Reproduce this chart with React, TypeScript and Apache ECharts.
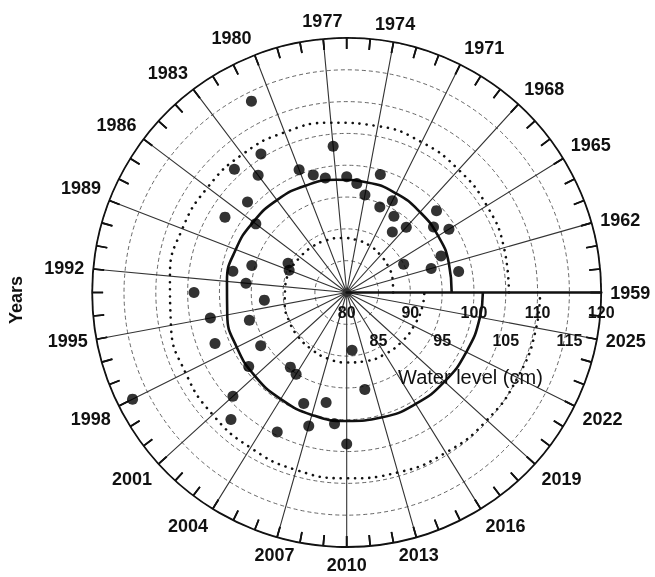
import React, { useEffect, useRef } from "react";
import * as echarts from "echarts";

const years = [
  1961, 1962, 1963, 1964, 1965, 1966, 1967, 1968, 1969, 1970,
  1971, 1972, 1973, 1974, 1975, 1976, 1977, 1978, 1979, 1980,
  1981, 1982, 1983, 1984, 1985, 1986, 1987, 1988, 1989, 1990,
  1991, 1992, 1993, 1994, 1995, 1996, 1997, 1998, 1999, 2000,
  2001, 2002, 2003, 2004, 2005, 2006, 2007, 2008, 2009, 2010,
  2011, 2012,
];
const waterLevels = [
  97.9, 93.8, 95.9, 90.0, 98.9, 97.1, 99.1, 93.9, 91.9, 94.1,
  96.1, 94.4, 99.3, 95.6, 97.2, 98.2, 103.1, 98.3, 99.2, 100.7,
  113.6, 105.6, 103.1, 106.2, 101.1, 97.9, 102.5, 90.3, 89.7, 95.5,
  98.2, 95.9, 104.0, 93.0, 101.8, 95.9, 102.2, 117.6, 95.9, 99.3,
  104.2, 107.0, 94.7, 95.1, 104.5, 98.7, 101.8, 97.6, 100.7, 103.8,
  89.1, 95.5,
];

// Trend spiral and its dotted bounds, read at the labelled years
const trendYears = [
  1959, 1962, 1965, 1968, 1971, 1974, 1977, 1980, 1983, 1986, 1989, 1992,
  1995, 1998, 2001, 2004, 2007, 2010, 2013, 2016, 2019, 2022, 2025, 2027,
];
const trendLevels = [
  96.5, 96.7, 96.9, 97.1, 97.4, 97.6, 97.8, 98.0, 98.2, 98.4, 98.7, 98.9,
  99.1, 99.3, 99.5, 99.7, 100.0, 100.2, 100.4, 100.6, 100.8, 101.0, 101.3, 101.4,
];
const upperLevels = [
  105.5, 105.7, 105.9, 106.1, 106.4, 106.6, 106.8, 107.0, 107.2, 107.4, 107.7, 107.9,
  108.1, 108.3, 108.5, 108.7, 109.0, 109.2, 109.4, 109.6, 109.8, 110.0, 110.3, 110.4,
];
const lowerLevels = [
  87.3, 87.5, 87.7, 87.9, 88.2, 88.4, 88.6, 88.8, 89.0, 89.2, 89.5, 89.7,
  89.9, 90.1, 90.3, 90.5, 90.8, 91.0, 91.2, 91.4, 91.6, 91.8, 92.1, 92.2,
];

// Yearly tick marks on the outer circle (axis decoration)
const tickYears: number[] = [];
for (let y = 1959; y < 2027; y++) tickYears.push(y);

const FONT = "Liberation Sans";
const CENTER = [346.7, 292.5];
const RADIUS = 254.5;

export default function App() {
  const ref = useRef<HTMLDivElement>(null);
  useEffect(() => {
    if (!ref.current) return;
    const chart = echarts.init(ref.current, undefined, { renderer: "svg" });
    const pair = (lv: number[], yr: number[]) => yr.map((y, i) => [lv[i], y]);
    chart.setOption({
      animation: false,
      textStyle: { fontFamily: FONT, color: "#111" },
      polar: { center: CENTER, radius: RADIUS },
      angleAxis: {
        type: "value",
        min: 1959,
        max: 2027,
        interval: 3,
        startAngle: 0,
        clockwise: false,
        axisLine: { show: true, lineStyle: { color: "#111", width: 1.8 } },
        axisTick: { show: true, inside: true, length: 11, lineStyle: { color: "#111", width: 1.7 } },
        minorTick: { show: true, splitNumber: 3, length: 11, lineStyle: { color: "#111", width: 1.7 } },
        splitLine: { show: true, lineStyle: { color: "#333", width: 1.1, type: "solid" } },
        axisLabel: {
          margin: 9,
          fontSize: 18,
          fontWeight: "bold",
          color: "#111",
          fontFamily: FONT,
          formatter: (v: number) => (v > 2025 ? "" : String(v)),
        },
      },
      radiusAxis: {
        type: "value",
        min: 80,
        max: 120,
        interval: 5,
        axisLine: { show: true, lineStyle: { color: "#111", width: 2.6 } },
        axisTick: { show: false },
        splitLine: { show: true, lineStyle: { color: "#555", width: 0.9, type: [4, 3] } },
        axisLabel: {
          margin: -5.5,
          fontSize: 16,
          fontWeight: "bold",
          color: "#111",
          fontFamily: FONT,
          lineHeight: 28,
          verticalAlign: "top",
          formatter: (v: number) => (v % 10 === 5 ? "\n" + v : String(v)),
        },
      },
      series: [
        {
          type: "line",
          coordinateSystem: "polar",
          data: pair(upperLevels, trendYears),
          smooth: true,
          symbol: "none",
          lineStyle: { color: "#111", width: 2.6, type: [0.1, 7], cap: "round" },
          z: 3,
        },
        {
          type: "line",
          coordinateSystem: "polar",
          data: pair(lowerLevels, trendYears),
          smooth: true,
          symbol: "none",
          lineStyle: { color: "#111", width: 2.6, type: [0.1, 7], cap: "round" },
          z: 3,
        },
        {
          type: "line",
          coordinateSystem: "polar",
          data: pair(trendLevels, trendYears),
          smooth: true,
          symbol: "none",
          lineStyle: { color: "#111", width: 2.6 },
          z: 4,
        },
        {
          type: "scatter",
          coordinateSystem: "polar",
          data: pair(waterLevels, years),
          symbol: "circle",
          symbolSize: 11,
          itemStyle: { color: "#000" },
          z: 5,
        },
      ],
    });

    const tickEls: any[] = [];
    tickYears.forEach((y) => {
      const a = chart.convertToPixel({ seriesIndex: 3 } as any, [120, y]) as any;
      const b = chart.convertToPixel({ seriesIndex: 3 } as any, [118.3, y]) as any;
      if (a && b) {
        tickEls.push({
          type: "line",
          shape: { x1: a[0], y1: a[1], x2: b[0], y2: b[1] },
          style: { stroke: "#111", lineWidth: 1.7 },
        });
      }
    });

    chart.setOption({
      graphic: {
        elements: [
          ...tickEls,
          {
            type: "text",
            x: 16,
            y: 300,
            rotation: Math.PI / 2,
            style: {
              text: "Years",
              fontSize: 18,
              fontWeight: "bold",
              fontFamily: FONT,
              fill: "#111",
              textAlign: "center",
              textVerticalAlign: "middle",
            },
          },
          {
            type: "text",
            x: 398,
            y: 377,
            style: {
              text: "Water level (cm)",
              fontSize: 20,
              fontFamily: FONT,
              fill: "#111",
              textAlign: "left",
              textVerticalAlign: "middle",
            },
          },
        ],
      },
    });
    return () => chart.dispose();
  }, []);
  return (
    <div
      ref={ref}
      style={{ position: "fixed", left: 0, top: 0, width: 655, height: 577 }}
    />
  );
}
